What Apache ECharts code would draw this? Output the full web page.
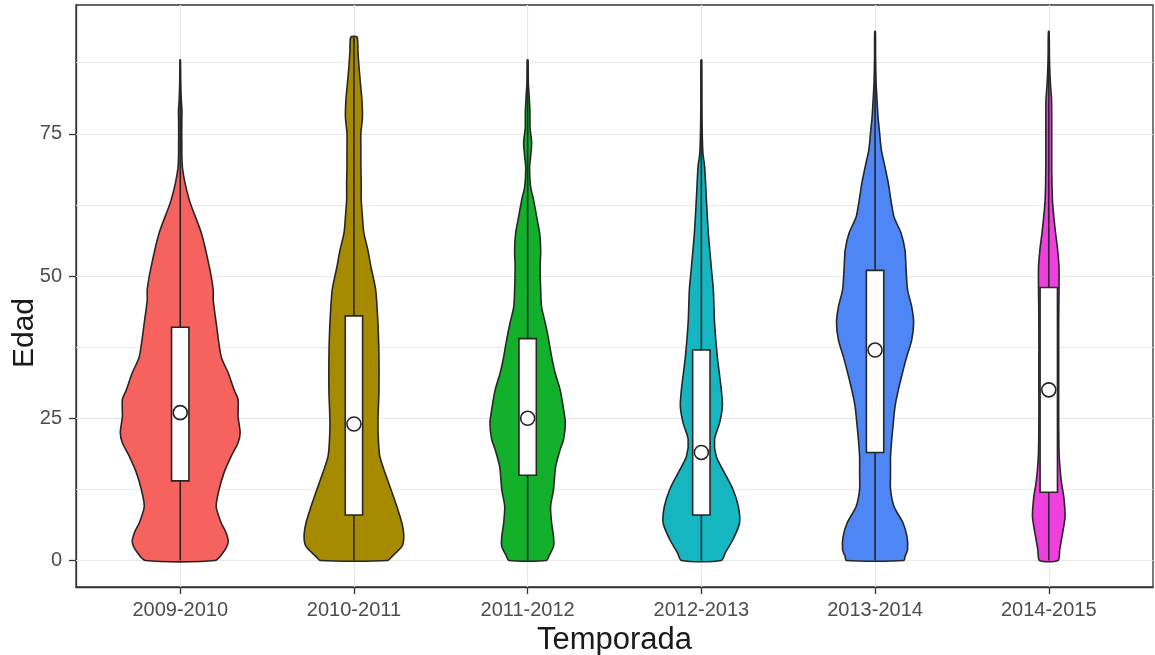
<!DOCTYPE html>
<html>
<head>
<meta charset="utf-8">
<script src="https://cdn.jsdelivr.net/npm/echarts@6/dist/echarts.min.js"></script>
<style>
  html, body { margin: 0; padding: 0; background: #ffffff; }
  #chart { width: 1155px; height: 655px; }
</style>
</head>
<body>
<div id="chart"></div>
<script>
// Seasons on the x axis
const seasons = ['2009-2010', '2010-2011', '2011-2012', '2012-2013', '2013-2014', '2014-2015'];

// Violin outlines: [age, half width as a fraction of one category band]
const violin2009 = [[0, 0.201], [1.4, 0.247], [3.2, 0.276], [4.9, 0.264], [6.6, 0.236], [9.5, 0.207], [12.5, 0.224], [15.5, 0.253], [18.3, 0.293], [20.7, 0.333], [22.5, 0.345], [25.3, 0.333], [28.3, 0.333], [30, 0.31], [33, 0.276], [35.8, 0.236], [41.8, 0.207], [45.8, 0.19], [47.6, 0.19], [51.7, 0.167], [57.6, 0.121], [63.4, 0.052], [69, 0.013], [74, 0.009], [77, 0.009], [79, 0.01], [81, 0.006], [84, 0.003], [88, 0.001]];
const violin2010 = [[0, 0.195], [0.7, 0.218], [2.5, 0.276], [4.2, 0.287], [6.6, 0.276], [9.5, 0.247], [12.5, 0.213], [15.5, 0.178], [18.3, 0.149], [21, 0.141], [24.2, 0.138], [30, 0.144], [35.8, 0.144], [41.8, 0.138], [47.6, 0.125], [51.6, 0.098], [54.6, 0.08], [57.6, 0.057], [60.4, 0.049], [63.4, 0.042], [66.4, 0.042], [69.2, 0.04], [72.2, 0.04], [75.1, 0.04], [78, 0.049], [81, 0.046], [84, 0.037], [86.8, 0.029], [89.5, 0.023], [92, 0.018]];
const violin2011 = [[0, 0.109], [0.7, 0.121], [2.5, 0.149], [4.2, 0.149], [6.6, 0.138], [9.5, 0.132], [12.5, 0.149], [16.5, 0.161], [19.5, 0.187], [21.3, 0.207], [24.2, 0.217], [27.1, 0.204], [30, 0.187], [33, 0.158], [35.8, 0.138], [38.8, 0.121], [41.8, 0.101], [44.6, 0.08], [47.6, 0.075], [51.6, 0.072], [54.6, 0.075], [57.6, 0.069], [60.4, 0.052], [63.4, 0.034], [65.7, 0.017], [69, 0.011], [71, 0.017], [73.5, 0.023], [76, 0.014], [79, 0.013], [81.5, 0.009], [84, 0.004], [88, 0.002]];
const violin2012 = [[0, 0.115], [1.4, 0.138], [3.7, 0.182], [6.6, 0.22], [9.5, 0.213], [12.5, 0.182], [15.5, 0.132], [18.3, 0.086], [21.3, 0.076], [24.2, 0.105], [27.1, 0.121], [30, 0.115], [35.8, 0.092], [41.8, 0.076], [47.6, 0.069], [51.6, 0.057], [57.6, 0.04], [63.4, 0.029], [69.2, 0.019], [71.6, 0.009], [75, 0.005], [80, 0.003], [88, 0.002]];
const violin2013 = [[0, 0.167], [0.7, 0.172], [1.9, 0.187], [4.2, 0.184], [6.6, 0.161], [9.5, 0.109], [12.5, 0.089], [15.5, 0.089], [18.3, 0.089], [21.3, 0.096], [24.2, 0.105], [27.1, 0.115], [30, 0.134], [33, 0.158], [35.8, 0.182], [38.8, 0.211], [41.8, 0.222], [44.6, 0.211], [47.6, 0.187], [51.6, 0.178], [54.6, 0.172], [57.6, 0.149], [60.4, 0.109], [63.4, 0.091], [66.4, 0.076], [69.2, 0.057], [72.2, 0.036], [75.2, 0.026], [78, 0.017], [81, 0.011], [84, 0.006], [88, 0.003], [93, 0.002]];
const violin2014 = [[0, 0.053], [1.9, 0.063], [4.9, 0.08], [7.8, 0.094], [11.3, 0.086], [13.7, 0.073], [18.3, 0.06], [24, 0.057], [30, 0.057], [36, 0.057], [42, 0.057], [47.6, 0.059], [51.6, 0.059], [54.6, 0.051], [57.6, 0.039], [60.4, 0.029], [63.4, 0.021], [69, 0.017], [75, 0.017], [81, 0.016], [84, 0.009], [88, 0.004], [93, 0.002]];

// Box summaries per season
const lowerQuartile = [14, 8, 15, 8, 19, 12];
const medianAge = [26, 24, 25, 19, 37, 30];
const upperQuartile = [41, 43, 39, 37, 51, 48];
const minAge = [0, 0, 0, 0, 0, 0];
const maxAge = [88, 92, 88, 88, 93, 93];

// Tick values
const yTicks = [0, 25, 50, 75];
const yMinorTicks = [12.5, 37.5, 62.5, 87.5];
const xTicks = [0, 1, 2, 3, 4, 5];

const fills = ['#F6625D', '#A68B00', '#13B02B', '#16B6C1', '#4F86F6', '#EF3FDF'];
const profiles = [violin2009, violin2010, violin2011, violin2012, violin2013, violin2014];

const ink = '#262626';
const gridColor = '#E8E8E8';
const outline = 1.6;

function renderViolin(params, api) {
  const i = api.value(0);
  const prof = profiles[i];
  const right = prof.map(function (p) { return api.coord([i + p[1], p[0]]); });
  const left = prof.slice().reverse().map(function (p) { return api.coord([i - p[1], p[0]]); });
  const pts = right.concat(left);

  const q1 = api.value(1), med = api.value(2), q3 = api.value(3), lo = api.value(4), hi = api.value(5);
  const boxL = api.coord([i - 0.05, q3]);
  const boxR = api.coord([i + 0.05, q1]);
  const wLo = api.coord([i, lo]);
  const wHi = api.coord([i, hi]);
  const mid = api.coord([i, med]);

  return {
    type: 'group',
    children: [
      {
        type: 'polygon',
        shape: { points: pts, smooth: 0.25 },
        style: { fill: fills[i], stroke: ink, lineWidth: outline, lineJoin: 'round' }
      },
      {
        type: 'line',
        shape: { x1: wLo[0], y1: wLo[1], x2: wHi[0], y2: wHi[1] },
        style: { stroke: ink, lineWidth: outline }
      },
      {
        type: 'rect',
        shape: { x: boxL[0], y: boxL[1], width: boxR[0] - boxL[0], height: boxR[1] - boxL[1] },
        style: { fill: '#ffffff', stroke: ink, lineWidth: outline }
      },
      {
        type: 'circle',
        shape: { cx: mid[0], cy: mid[1], r: 7 },
        style: { fill: '#ffffff', stroke: ink, lineWidth: outline }
      }
    ]
  };
}

const chart = echarts.init(document.getElementById('chart'), null, { renderer: 'canvas' });

const gridMarks = []
  .concat(yTicks.map(function (v) { return { yAxis: v, lineStyle: { width: 1.2 } }; }))
  .concat(yMinorTicks.map(function (v) { return { yAxis: v, lineStyle: { width: 0.9 } }; }))
  .concat(xTicks.map(function (v) { return { xAxis: v, lineStyle: { width: 1.2 } }; }));

chart.setOption({
  animation: false,
  backgroundColor: '#ffffff',
  grid: {
    left: 76, right: 2, top: 5, height: 582,
    outerBoundsMode: 'none',
    containLabel: false,
    show: true, backgroundColor: '#ffffff', borderColor: '#333333', borderWidth: 1.3
  },
  graphic: [
    {
      type: 'text',
      x: 25, y: 333,
      rotation: Math.PI / 2,
      style: {
        text: 'Edad', fontSize: 30, fontFamily: 'Liberation Sans', fill: '#1a1a1a',
        align: 'center', verticalAlign: 'middle'
      }
    }
  ],
  xAxis: {
    type: 'value',
    min: -0.6, max: 5.6,
    name: 'Temporada',
    nameLocation: 'middle',
    nameGap: 37,
    nameTextStyle: { fontSize: 31, color: '#1a1a1a', fontFamily: 'Liberation Sans' },
    axisLine: { show: true, onZero: false, lineStyle: { color: '#333333', width: 1.3 } },
    axisTick: { show: true, customValues: xTicks, length: 7, lineStyle: { color: '#333333', width: 1.3 } },
    axisLabel: {
      customValues: xTicks,
      formatter: function (v) { return seasons[Math.round(v)]; },
      color: '#4d4d4d', fontSize: 20, fontFamily: 'Liberation Sans', margin: 13
    },
    splitLine: { show: false }
  },
  yAxis: {
    type: 'value',
    min: -4.65, max: 97.65,
    axisLine: { show: true, onZero: false, lineStyle: { color: '#333333', width: 1.3 } },
    axisTick: { show: true, customValues: yTicks, length: 7, lineStyle: { color: '#333333', width: 1.3 } },
    axisLabel: { customValues: yTicks, color: '#4d4d4d', fontSize: 20, fontFamily: 'Liberation Sans', margin: 14 },
    splitLine: { show: false }
  },
  series: [
    {
      type: 'line',
      data: [],
      silent: true,
      z: 1,
      markLine: {
        silent: true,
        z: 1,
        symbol: 'none',
        label: { show: false },
        lineStyle: { color: gridColor, type: 'solid' },
        data: gridMarks
      }
    },
    {
      type: 'custom',
      z: 3,
      renderItem: renderViolin,
      encode: { x: 0, y: [1, 2, 3, 4, 5] },
      data: seasons.map(function (s, i) {
        return [i, lowerQuartile[i], medianAge[i], upperQuartile[i], minAge[i], maxAge[i]];
      })
    }
  ]
});
</script>
</body>
</html>
